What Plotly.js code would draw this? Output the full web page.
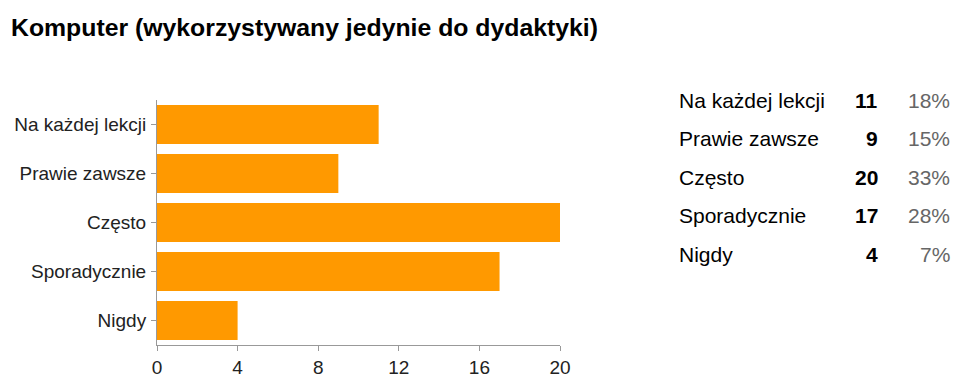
<!DOCTYPE html>
<html>
<head>
<meta charset="utf-8">
<script src="https://cdn.plot.ly/plotly-3.0.1.min.js"></script>
<style>html,body{margin:0;padding:0;background:#fff;}#chart{width:974px;height:386px;}</style>
</head>
<body>
<div id="chart"></div>
<script>
var chartTitle = "Komputer (wykorzystywany jedynie do dydaktyki)";
var categories = ["Na każdej lekcji", "Prawie zawsze", "Często", "Sporadycznie", "Nigdy"];
var counts = [11, 9, 20, 17, 4];
var percents = ["18%", "15%", "33%", "28%", "7%"];
var xTicks = [0, 4, 8, 12, 16, 20];

var W = 974, H = 386;
var L = 157, R = 560, T = 100, B = 345;
function px(x) { return (x - L) / (R - L); }
function py(y) { return (B - y) / (B - T); }
var FONT = "Liberation Sans, Arial, sans-serif";

var rowY = [100, 138.5, 177, 215.5, 254];
var annotations = [];
for (var i = 0; i < categories.length; i++) {
  annotations.push({xref: 'paper', yref: 'paper', x: px(677), y: py(rowY[i]), xanchor: 'left', yanchor: 'middle',
    text: categories[i], showarrow: false, font: {family: FONT, size: 21, color: '#000'}});
  annotations.push({xref: 'paper', yref: 'paper', x: px(880), y: py(rowY[i]), xanchor: 'right', yanchor: 'middle',
    text: '<b>' + counts[i] + '</b>', showarrow: false, font: {family: FONT, size: 21, color: '#000'}});
  annotations.push({xref: 'paper', yref: 'paper', x: px(952), y: py(rowY[i]), xanchor: 'right', yanchor: 'middle',
    text: percents[i], showarrow: false, font: {family: FONT, size: 21, color: '#666'}});
}

var trace = {
  type: 'bar', orientation: 'h',
  y: categories, x: counts,
  marker: {color: '#FF9900', line: {width: 0}},
  hoverinfo: 'none'
};

var layout = {
  width: W, height: H,
  margin: {l: L, r: W - R, t: T, b: H - B, pad: 0},
  paper_bgcolor: '#fff', plot_bgcolor: '#fff',
  showlegend: false,
  bargap: 0.2,
  title: {text: '<b>' + chartTitle + '</b>', xref: 'container', yref: 'container', x: 11 / W, xanchor: 'left',
    y: 1 - 27 / H, yanchor: 'middle', font: {family: FONT, size: 24.8, color: '#000'}},
  xaxis: {range: [0, 20], tickvals: xTicks, ticktext: xTicks.map(String), showgrid: false, zeroline: false,
    showline: true, linecolor: '#999', linewidth: 1, ticks: 'outside', ticklen: 5, tickcolor: '#999',
    tickfont: {family: FONT, size: 19, color: '#222'}, fixedrange: true},
  yaxis: {autorange: 'reversed', showgrid: false, zeroline: false, showline: true, linecolor: '#999', linewidth: 1,
    ticks: 'outside', ticklen: 5, tickcolor: '#999', ticklabelstandoff: 1,
    tickfont: {family: FONT, size: 19, color: '#222'}, fixedrange: true},
  annotations: annotations
};

Plotly.newPlot('chart', [trace], layout, {displayModeBar: false, staticPlot: true});
</script>
</body>
</html>
